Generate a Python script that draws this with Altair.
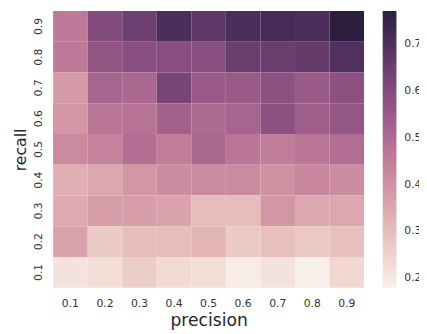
import altair as alt
import numpy as np
import pandas as pd

precision = ["0.1", "0.2", "0.3", "0.4", "0.5", "0.6", "0.7", "0.8", "0.9"]
recall = ["0.9", "0.8", "0.7", "0.6", "0.5", "0.4", "0.3", "0.2", "0.1"]

# rows from recall 0.9 (top) down to 0.1 (bottom); columns precision 0.1..0.9
row_09 = [0.46, 0.60, 0.64, 0.71, 0.67, 0.71, 0.72, 0.71, 0.77]
row_08 = [0.46, 0.57, 0.59, 0.59, 0.59, 0.65, 0.65, 0.66, 0.70]
row_07 = [0.38, 0.52, 0.51, 0.62, 0.55, 0.55, 0.58, 0.55, 0.58]
row_06 = [0.39, 0.47, 0.48, 0.53, 0.50, 0.52, 0.58, 0.54, 0.56]
row_05 = [0.42, 0.44, 0.49, 0.45, 0.51, 0.47, 0.45, 0.47, 0.49]
row_04 = [0.33, 0.35, 0.39, 0.41, 0.42, 0.42, 0.40, 0.43, 0.41]
row_03 = [0.34, 0.37, 0.37, 0.36, 0.30, 0.30, 0.39, 0.35, 0.35]
row_02 = [0.36, 0.27, 0.30, 0.30, 0.32, 0.27, 0.29, 0.27, 0.29]
row_01 = [0.21, 0.22, 0.26, 0.23, 0.22, 0.19, 0.21, 0.18, 0.24]
rows = [row_09, row_08, row_07, row_06, row_05, row_04, row_03, row_02, row_01]

colorbar_ticks = [0.2, 0.3, 0.4, 0.5, 0.6, 0.7]

records = []
for r, vals in zip(recall, rows):
    for p, v in zip(precision, vals):
        records.append({"precision": p, "recall": r, "value": v})
df = pd.DataFrame(records)

# seaborn-style cubehelix palette (light=.95, dark=.15)
def cubehelix_hex(n, light=0.95, dark=0.15, start=0.0, rot=0.4, gamma=1.0, hue=0.8):
    out = []
    for x in np.linspace(light, dark, n):
        xg = x ** gamma
        a = hue * xg * (1 - xg) / 2
        phi = 2 * np.pi * (start / 3 + rot * x)
        r = xg + a * (-0.14861 * np.cos(phi) + 1.78277 * np.sin(phi))
        g = xg + a * (-0.29227 * np.cos(phi) - 0.90649 * np.sin(phi))
        b = xg + a * (1.97294 * np.cos(phi))
        rgb = [int(round(min(max(c, 0), 1) * 255)) for c in (r, g, b)]
        out.append("#%02x%02x%02x" % tuple(rgb))
    return out

palette = cubehelix_hex(32)
vmin = float(df["value"].min())
vmax = float(df["value"].max())

chart = alt.Chart(df).mark_rect(strokeWidth=0).encode(
    x=alt.X("precision:O", sort=precision,
            scale=alt.Scale(paddingInner=0, paddingOuter=0),
            axis=alt.Axis(title="precision", labelAngle=0, labelPadding=10,
                          titlePadding=4, titleFontSize=17.5)),
    y=alt.Y("recall:O", sort=recall,
            scale=alt.Scale(paddingInner=0, paddingOuter=0),
            axis=alt.Axis(title="recall", labelAngle=270, labelPadding=10,
                          titlePadding=4, titleFontSize=16)),
    color=alt.Color("value:Q",
                    scale=alt.Scale(domain=[vmin, vmax], range=palette,
                                    interpolate="rgb"),
                    legend=alt.Legend(title=None, values=colorbar_ticks,
                                      gradientLength=282, gradientThickness=14,
                                      offset=19, padding=0, labelOffset=8,
                                      labelFontSize=11, labelColor="#333333",
                                      labelFont="DejaVu Sans",
                                      labelOverlap=False, format=".1f")),
).properties(
    width=317, height=282,
    autosize=alt.AutoSizeParams(type="none"),
    padding={"left": 46, "top": 0, "right": 56, "bottom": 44},
).configure_axis(
    domain=False, ticks=False, grid=False,
    labelFont="DejaVu Sans", labelFontSize=11, labelColor="#333333",
    titleFont="DejaVu Sans", titleFontWeight="normal",
    titleColor="#262626",
).configure_view(stroke=None)

chart.save("out.html", embed_options={"renderer": "svg", "actions": False})
